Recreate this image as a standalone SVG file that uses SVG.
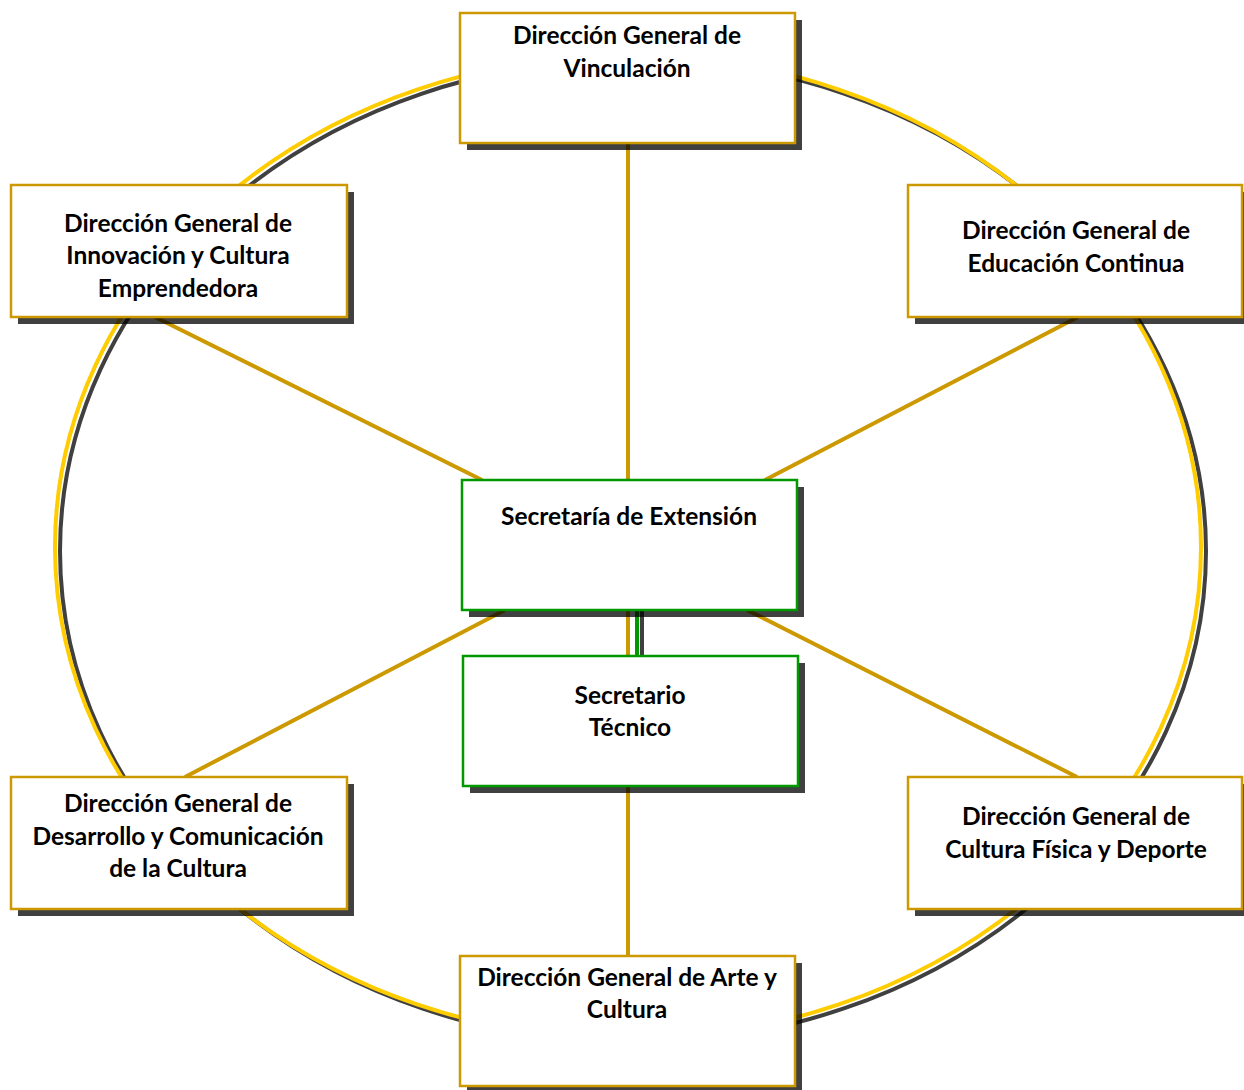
<svg xmlns="http://www.w3.org/2000/svg" width="1244" height="1090" viewBox="0 0 1244 1090">
<style>
.sh{fill:#000;fill-opacity:0.75}
.gb{fill:#fff;stroke:#CC9900;stroke-width:2.5}
.grb{fill:#fff;stroke:#009900;stroke-width:2.5}
.t{font-family:Lato,"Open Sans",sans-serif;font-weight:bold;font-size:24.5px;fill:#000;text-anchor:middle}
.cn{stroke:#CC9900;stroke-width:4;fill:none}
</style>
<rect width="1244" height="1090" fill="#fff"/>
<g id="ring">
<ellipse cx="633" cy="551" rx="573" ry="492" fill="none" stroke="#404040" stroke-width="4"/>
<ellipse cx="628" cy="547" rx="573" ry="492" fill="none" stroke="#FFCC00" stroke-width="4"/>
</g>
<g id="connectors">
<line class="cn" x1="628" y1="143" x2="628" y2="956"/>
<line class="cn" x1="155" y1="317" x2="482" y2="480"/>
<line class="cn" x1="1078" y1="317" x2="765" y2="480"/>
<line class="cn" x1="505" y1="610" x2="185" y2="777"/>
<line class="cn" x1="747" y1="610" x2="1077" y2="777"/>
<line x1="642" y1="610" x2="642" y2="656" stroke="#404040" stroke-width="4"/>
<line x1="637" y1="610" x2="637" y2="656" stroke="#009900" stroke-width="4"/>
</g>
<g id="n-vinculacion">
<rect class="sh" x="467" y="20" width="335" height="130"/>
<rect class="gb" x="460" y="13" width="335" height="130"/>
<text class="t" x="627" y="44">Dirección General de</text>
<text class="t" x="627" y="77">Vinculación</text>
</g>
<g id="n-innovacion">
<rect class="sh" x="18" y="192" width="336" height="132"/>
<rect class="gb" x="11" y="185" width="336" height="132"/>
<text class="t" x="178" y="232">Dirección General de</text>
<text class="t" x="178" y="264">Innovación y Cultura</text>
<text class="t" x="178" y="297">Emprendedora</text>
</g>
<g id="n-educacion">
<rect class="sh" x="915" y="192" width="336" height="132"/>
<rect class="gb" x="908" y="185" width="334" height="132"/>
<text class="t" x="1076" y="239">Dirección General de</text>
<text class="t" x="1076" y="272">Educación Continua</text>
</g>
<g id="n-secretaria">
<rect class="sh" x="469" y="487" width="335" height="130"/>
<rect class="grb" x="462" y="480" width="335" height="130"/>
<text class="t" x="629" y="525">Secretaría de Extensión</text>
</g>
<g id="n-tecnico">
<rect class="sh" x="470" y="663" width="335" height="130"/>
<rect class="grb" x="463" y="656" width="335" height="130"/>
<text class="t" x="630" y="704">Secretario</text>
<text class="t" x="630" y="736">Técnico</text>
</g>
<g id="n-desarrollo">
<rect class="sh" x="18" y="784" width="336" height="132"/>
<rect class="gb" x="11" y="777" width="336" height="132"/>
<text class="t" x="178" y="812">Dirección General de</text>
<text class="t" x="178" y="845">Desarrollo y Comunicación</text>
<text class="t" x="178" y="877">de la Cultura</text>
</g>
<g id="n-deporte">
<rect class="sh" x="915" y="784" width="336" height="132"/>
<rect class="gb" x="908" y="777" width="334" height="132"/>
<text class="t" x="1076" y="825">Dirección General de</text>
<text class="t" x="1076" y="858">Cultura Física y Deporte</text>
</g>
<g id="n-arte">
<rect class="sh" x="467" y="963" width="335" height="130"/>
<rect class="gb" x="460" y="956" width="335" height="130"/>
<text class="t" x="627" y="986">Dirección General de Arte y</text>
<text class="t" x="627" y="1018">Cultura</text>
</g>
</svg>
